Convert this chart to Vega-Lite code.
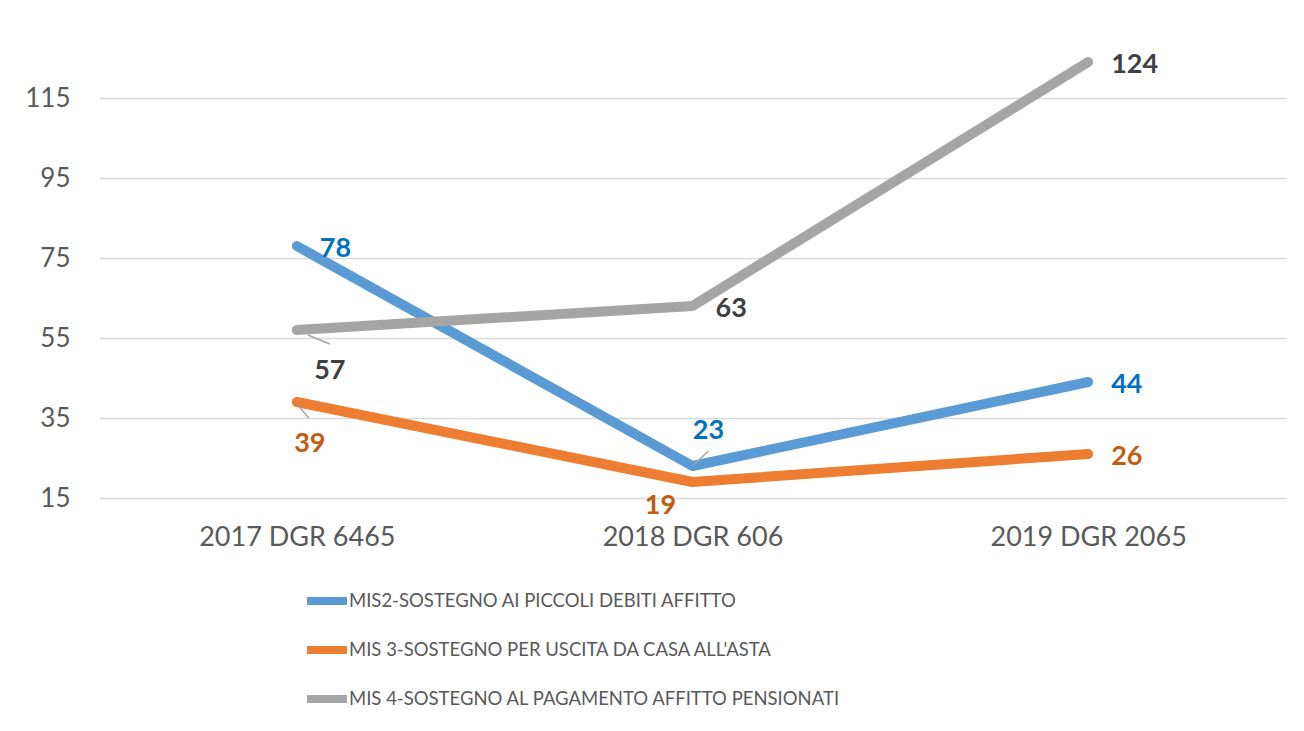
{
  "$schema": "https://vega.github.io/schema/vega-lite/v6.json",
  "width": 1187,
  "height": 480,
  "autosize": {"type": "none"},
  "padding": {"left": 99, "top": 18, "right": 18, "bottom": 233},
  "background": "white",
  "config": {
    "view": {"stroke": null},
    "font": "Lato"
  },
  "data": {
    "values": [
      {"anno": "2017 DGR 6465", "serie": "MIS2-SOSTEGNO AI PICCOLI DEBITI AFFITTO", "valore": 78},
      {"anno": "2018 DGR 606", "serie": "MIS2-SOSTEGNO AI PICCOLI DEBITI AFFITTO", "valore": 23},
      {"anno": "2019 DGR 2065", "serie": "MIS2-SOSTEGNO AI PICCOLI DEBITI AFFITTO", "valore": 44},
      {"anno": "2017 DGR 6465", "serie": "MIS 3-SOSTEGNO PER USCITA DA CASA ALL'ASTA", "valore": 39},
      {"anno": "2018 DGR 606", "serie": "MIS 3-SOSTEGNO PER USCITA DA CASA ALL'ASTA", "valore": 19},
      {"anno": "2019 DGR 2065", "serie": "MIS 3-SOSTEGNO PER USCITA DA CASA ALL'ASTA", "valore": 26},
      {"anno": "2017 DGR 6465", "serie": "MIS 4-SOSTEGNO AL PAGAMENTO AFFITTO PENSIONATI", "valore": 57},
      {"anno": "2018 DGR 606", "serie": "MIS 4-SOSTEGNO AL PAGAMENTO AFFITTO PENSIONATI", "valore": 63},
      {"anno": "2019 DGR 2065", "serie": "MIS 4-SOSTEGNO AL PAGAMENTO AFFITTO PENSIONATI", "valore": 124}
    ]
  },
  "encoding": {
    "x": {
      "field": "anno", "type": "ordinal", "sort": null,
      "scale": {"type": "point", "padding": 0.5},
      "axis": {"title": null, "labelAngle": 0, "domain": false, "ticks": false, "labelFontSize": 27, "labelColor": "#595959", "labelPadding": 26, "labelFont": "Lato", "labelLimit": 400}
    },
    "y": {
      "field": "valore", "type": "quantitative",
      "scale": {"domain": [15, 135], "nice": false, "zero": false},
      "axis": {"title": null, "values": [15, 35, 55, 75, 95, 115], "domain": false, "ticks": false, "labelFontSize": 26, "labelColor": "#595959", "labelPadding": 29, "gridColor": "#D9D9D9", "gridWidth": 1.5, "labelFont": "Lato"}
    }
  },
  "layer": [
    {
      "mark": {"type": "line", "strokeWidth": 10, "strokeCap": "round", "strokeJoin": "round"},
      "encoding": {
        "color": {
          "field": "serie", "type": "nominal",
          "scale": {
            "domain": ["MIS2-SOSTEGNO AI PICCOLI DEBITI AFFITTO", "MIS 3-SOSTEGNO PER USCITA DA CASA ALL'ASTA", "MIS 4-SOSTEGNO AL PAGAMENTO AFFITTO PENSIONATI"],
            "range": ["#5B9BD5", "#ED7D31", "#A5A5A5"]
          },
          "legend": {
            "title": null, "orient": "none", "legendX": 204, "legendY": 559, "direction": "vertical",
            "symbolType": "stroke", "symbolStrokeWidth": 8, "symbolSize": 1600,
            "labelFontSize": 18.5, "labelColor": "#595959", "labelFont": "Lato", "rowPadding": 9, "labelOffset": -2, "labelLimit": 900
          }
        }
      }
    },
    {
      "transform": [{"filter": "datum.valore == 57"}],
      "mark": {"type": "rule", "color": "#A5A5A5", "strokeWidth": 1.5, "xOffset": 11, "yOffset": 5, "x2Offset": 33, "y2Offset": 14},
      "encoding": {"x2": {"field": "anno"}, "y2": {"field": "valore"}}
    },
    {
      "transform": [{"filter": "datum.valore == 39"}],
      "mark": {"type": "rule", "color": "#A5A5A5", "strokeWidth": 1.5, "xOffset": 0, "yOffset": 2, "x2Offset": 12, "y2Offset": 16},
      "encoding": {"x2": {"field": "anno"}, "y2": {"field": "valore"}}
    },
    {
      "transform": [{"filter": "datum.valore == 23"}],
      "mark": {"type": "rule", "color": "#A5A5A5", "strokeWidth": 1.5, "xOffset": 1, "yOffset": -1, "x2Offset": 16, "y2Offset": -15},
      "encoding": {"x2": {"field": "anno"}, "y2": {"field": "valore"}}
    },
    {
      "transform": [{"filter": "datum.valore == 78 || datum.valore == 63 || datum.valore == 124 || datum.valore == 44 || datum.valore == 26"}],
      "mark": {"type": "text", "align": "left", "baseline": "middle", "dx": 23, "dy": 3, "fontSize": 27, "fontWeight": "bold"},
      "encoding": {
        "text": {"field": "valore", "type": "quantitative"},
        "fill": {"field": "serie", "type": "nominal", "scale": {"domain": ["MIS2-SOSTEGNO AI PICCOLI DEBITI AFFITTO", "MIS 3-SOSTEGNO PER USCITA DA CASA ALL'ASTA", "MIS 4-SOSTEGNO AL PAGAMENTO AFFITTO PENSIONATI"], "range": ["#0070C0", "#C55A11", "#404040"]}, "legend": null}
      }
    },
    {
      "transform": [{"filter": "datum.valore == 57"}],
      "mark": {"type": "text", "align": "center", "baseline": "middle", "dx": 33, "dy": 41, "fontSize": 27, "fontWeight": "bold", "color": "#404040"},
      "encoding": {"text": {"field": "valore", "type": "quantitative"}}
    },
    {
      "transform": [{"filter": "datum.valore == 39"}],
      "mark": {"type": "text", "align": "center", "baseline": "middle", "dx": 13, "dy": 42, "fontSize": 27, "fontWeight": "bold", "color": "#C55A11"},
      "encoding": {"text": {"field": "valore", "type": "quantitative"}}
    },
    {
      "transform": [{"filter": "datum.valore == 23"}],
      "mark": {"type": "text", "align": "center", "baseline": "middle", "dx": 16, "dy": -35, "fontSize": 27, "fontWeight": "bold", "color": "#0070C0"},
      "encoding": {"text": {"field": "valore", "type": "quantitative"}}
    },
    {
      "transform": [{"filter": "datum.valore == 19"}],
      "mark": {"type": "text", "align": "center", "baseline": "middle", "dx": -32, "dy": 24, "fontSize": 27, "fontWeight": "bold", "color": "#C55A11"},
      "encoding": {"text": {"field": "valore", "type": "quantitative"}}
    }
  ],
  "resolve": {"scale": {"color": "independent", "fill": "independent"}}
}
